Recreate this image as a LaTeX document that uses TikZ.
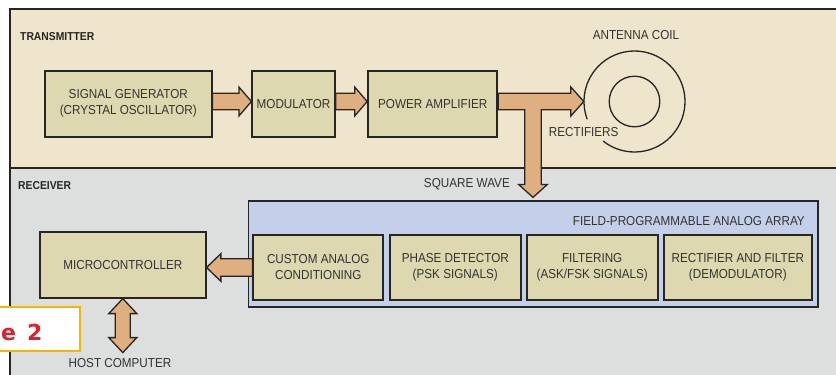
\documentclass[tikz,border=0pt]{standalone}
\usepackage{fontspec}
\setmainfont{Liberation Sans}[FakeStretch=0.9]
\newfontfamily\figfont{DejaVu Sans}
\usetikzlibrary{calc}
\definecolor{txbg}{HTML}{EFE4CC}
\definecolor{rxbg}{HTML}{DCDFDD}
\definecolor{boxfill}{HTML}{DDD8B0}
\definecolor{fpaafill}{HTML}{C4D0EA}
\definecolor{arrfill}{HTML}{DFAF80}
\definecolor{ink}{HTML}{262626}
\definecolor{txt}{HTML}{333333}
\definecolor{figorange}{HTML}{F7B500}
\definecolor{figred}{HTML}{E0202A}
\newcommand\boxfont{\fontsize{13}{16}\selectfont}
\newcommand\sectfont{\fontsize{11.5}{13}\selectfont\bfseries}
\begin{document}
\begin{tikzpicture}[x=1pt,y=1pt,
  block/.style={draw=ink, line width=1.8pt, fill=boxfill, align=center, inner sep=0pt, font=\boxfont, text=txt},
  lbl/.style={font=\boxfont, text=txt, inner sep=0pt},
  sect/.style={font=\sectfont, text=ink, inner sep=0pt},
  barrow/.style={draw=ink, line width=1.3pt, fill=arrfill, line join=miter},
  frame/.style={draw=ink, line width=1.3pt},
  coilline/.style={draw=ink, line width=1.3pt}]
\useasboundingbox (0,0) rectangle (836,-375);
\fill[white] (0,0) rectangle (836,-375);
% sections
\draw[frame, fill=txbg] (10,-9) rectangle (845,-168);
\draw[frame, fill=rxbg] (10,-168) rectangle (845,-385);
\node[sect, anchor=base west] (txl) at (20,-40) {TRANSMITTER};
\node[sect, anchor=base west] (rxl) at (18,-189.3) {RECEIVER};
% transmitter blocks
\node[block, minimum width=166.7pt, minimum height=65.7pt] (sg) at (128.3,-103.8) {SIGNAL GENERATOR\\(CRYSTAL OSCILLATOR)};
\node[block, minimum width=82.4pt, minimum height=65.7pt] (mod) at (293.5,-103.8) {MODULATOR};
\node[block, minimum width=129.3pt, minimum height=65.7pt] (pa) at (432.7,-103.8) {POWER AMPLIFIER};
% antenna coil
\node[circle, minimum size=101pt, inner sep=0pt] (coil) at (634.5,-101.5) {};
\draw[coilline] (coil.center) ++(231.6:50.5) arc[start angle=231.6, end angle=560.6, radius=50.5];
\draw[coilline] (coil.center) circle[radius=25.3];
\node[lbl, anchor=base] (acl) at (636,-39) {ANTENNA COIL};
\node[lbl, anchor=base] (rect) at (583.7,-136) {RECTIFIERS};
% receiver
\node[draw=ink, line width=1.6pt, fill=fpaafill, minimum width=569.4pt, minimum height=106pt, inner sep=0pt] (fpaa) at (533,-253.7) {};
\node[lbl, anchor=base east] (fpl) at (805,-225) {FIELD-PROGRAMMABLE ANALOG ARRAY};
\node[block, minimum width=130pt, minimum height=65pt] (cust) at (318.3,-267.5) {CUSTOM ANALOG\\CONDITIONING};
\node[block, minimum width=130.7pt, minimum height=65pt] (phase) at (455.3,-267.5) {PHASE DETECTOR\\(PSK SIGNALS)};
\node[block, minimum width=131pt, minimum height=65pt] (filt) at (592.2,-267.5) {FILTERING\\(ASK/FSK SIGNALS)};
\node[block, minimum width=147.7pt, minimum height=65pt] (rectf) at (737.8,-267.5) {RECTIFIER AND FILTER\\(DEMODULATOR)};
\node[block, minimum width=165.7pt, minimum height=65.4pt] (micro) at (122.8,-265) {MICROCONTROLLER};
\node[lbl, anchor=base east] (sqw) at (510,-187.3) {SQUARE WAVE};
\node[lbl, anchor=base] (host) at (120,-367.3) {HOST COMPUTER};
\coordinate (hostend) at ($(micro.south)+(0,-54)$);
% arrows
\draw[barrow] let \p1=(sg.east |- coil), \p2=(mod.west) in
  (\x1,\y1+8.2) -- (\x2-12.5,\y1+8.2) -- (\x2-12.5,\y1+14.5) -- (\x2,\y1) -- (\x2-12.5,\y1-14.5) -- (\x2-12.5,\y1-8.2) -- (\x1,\y1-8.2) -- cycle;
\draw[barrow] let \p1=(mod.east |- coil), \p2=(pa.west) in
  (\x1,\y1+8.2) -- (\x2-12.5,\y1+8.2) -- (\x2-12.5,\y1+14.5) -- (\x2,\y1) -- (\x2-12.5,\y1-14.5) -- (\x2-12.5,\y1-8.2) -- (\x1,\y1-8.2) -- cycle;
\draw[barrow] let \p1=(pa.east |- coil), \p2=(coil.west), \p3=(fpaa.north) in
  (\x1,\y1+8.2) -- (\x2-13,\y1+8.2) -- (\x2-13,\y1+14.5) -- (\x2,\y1) -- (\x2-13,\y1-14.5) -- (\x2-13,\y1-8.2)
  -- (\x3+8.3,\y1-8.2) -- (\x3+8.3,\y3+15.5) -- (\x3+14.4,\y3+15.5) -- (\x3,\y3+2.5) -- (\x3-14.4,\y3+15.5) -- (\x3-8.3,\y3+15.5)
  -- (\x3-8.3,\y1-8.2) -- (\x1,\y1-8.2) -- cycle;
\draw[barrow] let \p1=(cust.west), \p2=(micro.east |- cust.west) in
  (\x1,\y1+8.8) -- (\x2+14.3,\y1+8.8) -- (\x2+14.3,\y1+13.8) -- (\x2,\y1) -- (\x2+14.3,\y1-13.8) -- (\x2+14.3,\y1-8.8) -- (\x1,\y1-8.8) -- cycle;
\draw[barrow] let \p1=(micro.south), \p2=(hostend) in
  (\x1,\y1) -- (\x1+14,\y1-15) -- (\x1+7.5,\y1-15) -- (\x1+7.5,\y2+15) -- (\x1+14,\y2+15) -- (\x1,\y2)
  -- (\x1-14,\y2+15) -- (\x1-7.5,\y2+15) -- (\x1-7.5,\y1-15) -- (\x1-14,\y1-15) -- cycle;
% figure tag
\draw[draw=figorange, line width=2pt, fill=white] (-5,-307.3) rectangle (80,-350.7);
\node[font=\figfont\bfseries\fontsize{22}{24}\selectfont, text=figred, anchor=base west, inner sep=0pt] (tag) at (1,-340) {e\hspace{11pt}2};
\end{tikzpicture}
\end{document}
